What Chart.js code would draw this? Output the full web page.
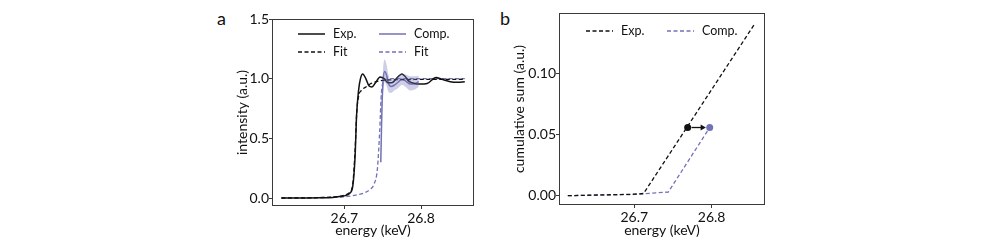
<!DOCTYPE html>
<html lang="en">
<head>
    <meta charset="UTF-8">
    <title>XANES edge shift</title>
    <script src="https://cdn.jsdelivr.net/npm/chart.js"></script>
    <style>
        body { margin: 0; background: #fff; width: 981px; height: 246px; position: relative; overflow: hidden; font-family: Lato, sans-serif; }
        canvas { position: absolute; top: 0; }
        .panel-tag { position: absolute; font-size: 18px; line-height: 18px; color: #111; }
    </style>
</head>
<body>
    <div class="panel-tag" style="left:217px; top:9px;">a</div>
    <div class="panel-tag" style="left:500px; top:9px;">b</div>
    <canvas id="chartA" width="290" height="246" style="left:200px;"></canvas>
    <canvas id="chartB" width="300" height="246" style="left:490px;"></canvas>

    <script>
        // panel a: normalised intensity
        const expEnergy = [26.618, 26.642, 26.668, 26.685, 26.694, 26.701, 26.707, 26.711, 26.714, 26.716, 26.7185, 26.721, 26.724, 26.728, 26.732, 26.736, 26.741, 26.7465, 26.752, 26.757, 26.762, 26.769, 26.775, 26.779, 26.784, 26.791, 26.799, 26.808, 26.8195, 26.827, 26.838, 26.848, 26.857];
        const expIntensity = [0, 0, 0.002, 0.005, 0.012, 0.02, 0.04, 0.10, 0.35, 0.70, 0.90, 1.00, 1.04, 1.00, 0.94, 0.93, 0.97, 1.015, 1.00, 0.965, 0.965, 1.01, 1.04, 1.02, 0.98, 0.96, 0.955, 0.96, 1.01, 0.995, 0.975, 0.97, 0.975];

        const expFitEnergy = [26.618, 26.668, 26.685, 26.694, 26.701, 26.707, 26.711, 26.714, 26.716, 26.7185, 26.722, 26.728, 26.735, 26.745, 26.76, 26.857];
        const expFitIntensity = [0, 0.003, 0.008, 0.015, 0.025, 0.05, 0.12, 0.40, 0.70, 0.85, 0.90, 0.93, 0.96, 0.98, 0.99, 0.995];

        const compEnergy = [26.7475, 26.749, 26.7505, 26.7525, 26.755, 26.7575, 26.761, 26.765, 26.770, 26.775, 26.780, 26.786, 26.792, 26.797];
        const compIntensity = [0.30, 0.75, 0.98, 1.06, 1.03, 0.96, 0.935, 0.945, 0.97, 0.995, 0.98, 0.955, 0.96, 0.975];
        const compUpper = [0.35, 0.85, 1.08, 1.16, 1.12, 1.03, 0.99, 0.99, 1.02, 1.04, 1.035, 1.02, 1.02, 1.025];
        const compLower = [0.25, 0.65, 0.88, 0.97, 0.94, 0.89, 0.88, 0.90, 0.92, 0.95, 0.93, 0.90, 0.91, 0.93];

        const compFitEnergy = [26.618, 26.668, 26.685, 26.700, 26.715, 26.725, 26.733, 26.739, 26.743, 26.746, 26.748, 26.750, 26.753, 26.761, 26.857];
        const compFitIntensity = [0, 0.004, 0.007, 0.01, 0.025, 0.04, 0.07, 0.12, 0.24, 0.55, 0.85, 0.96, 0.99, 1.0, 1.0];

        const xTicksA = [26.7, 26.8];
        const yTicksA = [0.0, 0.5, 1.0, 1.5];

        // panel b: cumulative sum
        const cumExpEnergy = [26.614, 26.700, 26.712, 26.855];
        const cumExpSum = [0, 0.0012, 0.0018, 0.1395];
        const cumCompEnergy = [26.614, 26.700, 26.744, 26.7975];
        const cumCompSum = [0, 0.001, 0.003, 0.0556];
        const markerEnergy = [26.769, 26.7975];
        const markerSum = [0.0556, 0.0556];
        const arrowEnergy = [26.774, 26.788];
        const arrowSum = [0.0556, 0.0556];

        const xTicksB = [26.7, 26.8];
        const yTicksB = [0.00, 0.05, 0.10];

        const purple = '#7272b6';
        const frameColor = '#3a3a3a';

        Chart.defaults.font.family = 'Lato';
        Chart.defaults.font.size = 14;
        Chart.defaults.color = '#111';

        function pts(xs, ys) {
            return xs.map((x, i) => ({ x: x, y: ys[i] }));
        }

        // box around the plot area
        const framePlugin = {
            id: 'frame',
            afterDraw(chart) {
                const a = chart.chartArea;
                const ctx = chart.ctx;
                ctx.save();
                ctx.strokeStyle = frameColor;
                ctx.lineWidth = 1;
                ctx.strokeRect(Math.round(a.left) + 0.5, Math.round(a.top) + 0.5, Math.round(a.right - a.left) - 1, Math.round(a.bottom - a.top) - 1);
                ctx.restore();
            }
        };

        // legend drawn inside the axes
        const insideLegend = {
            id: 'insideLegend',
            afterDraw(chart, args, opts) {
                const ctx = chart.ctx;
                ctx.save();
                opts.items.forEach(item => {
                    const ds = chart.data.datasets[item.ds];
                    ctx.strokeStyle = ds.borderColor;
                    ctx.lineWidth = ds.borderWidth;
                    ctx.setLineDash(ds.borderDash || []);
                    ctx.beginPath();
                    ctx.moveTo(item.x, item.y);
                    ctx.lineTo(item.x + 27, item.y);
                    ctx.stroke();
                    ctx.setLineDash([]);
                    ctx.fillStyle = '#111';
                    ctx.font = '12.5px Lato';
                    ctx.textBaseline = 'middle';
                    ctx.fillText(item.label, item.x + 35, item.y);
                });
                ctx.restore();
            }
        };

        function axisX(min, max, ticks, height) {
            return {
                type: 'linear', min: min, max: max,
                afterBuildTicks: s => { s.ticks = ticks.map(v => ({ value: v })); },
                afterFit: s => { s.height = height; },
                grid: { drawOnChartArea: false, drawTicks: true, tickLength: 3, color: frameColor },
                border: { display: false },
                ticks: { padding: 1, color: '#111', callback: v => v.toFixed(1) },
                title: { display: true, text: 'energy (keV)', padding: 0, color: '#111' }
            };
        }

        function axisY(min, max, ticks, width, digits, label) {
            return {
                type: 'linear', min: min, max: max,
                afterBuildTicks: s => { s.ticks = ticks.map(v => ({ value: v })); },
                afterFit: s => { s.width = width; },
                grid: { drawOnChartArea: false, drawTicks: true, tickLength: 3, color: frameColor },
                border: { display: false },
                ticks: { padding: 0, color: '#111', callback: v => v.toFixed(digits) },
                title: { display: true, text: label, padding: 0, color: '#111' }
            };
        }

        new Chart(document.getElementById('chartA'), {
            type: 'line',
            data: {
                datasets: [
                    { label: 'band+', data: pts(compEnergy, compUpper), borderWidth: 0, borderColor: 'rgba(0,0,0,0)', pointRadius: 0, fill: false, cubicInterpolationMode: 'monotone' },
                    { label: 'band-', data: pts(compEnergy, compLower), borderWidth: 0, borderColor: 'rgba(0,0,0,0)', pointRadius: 0, fill: '-1', backgroundColor: 'rgba(114,114,182,0.35)', cubicInterpolationMode: 'monotone' },
                    { label: 'Exp.', data: pts(expEnergy, expIntensity), borderColor: '#111', borderWidth: 1.5, pointRadius: 0, cubicInterpolationMode: 'monotone' },
                    { label: 'Fit', data: pts(expFitEnergy, expFitIntensity), borderColor: '#111', borderWidth: 1.3, borderDash: [4, 2.5], pointRadius: 0, cubicInterpolationMode: 'monotone' },
                    { label: 'Comp.', data: pts(compEnergy, compIntensity), borderColor: purple, borderWidth: 1.5, pointRadius: 0, cubicInterpolationMode: 'monotone' },
                    { label: 'Fit', data: pts(compFitEnergy, compFitIntensity), borderColor: purple, borderWidth: 1.3, borderDash: [4, 2.5], pointRadius: 0, cubicInterpolationMode: 'monotone' }
                ]
            },
            options: {
                responsive: false,
                animation: false,
                devicePixelRatio: 1,
                layout: { padding: { left: 34, right: 16, top: 19, bottom: 7.6 } },
                scales: {
                    x: axisX(26.6057, 26.869, xTicksA, 32.4),
                    y: axisY(-0.067, 1.5, yTicksA, 38, 1, 'intensity (a.u.)')
                },
                plugins: {
                    legend: { display: false },
                    tooltip: { enabled: false },
                    insideLegend: {
                        items: [
                            { ds: 2, label: 'Exp.', x: 98, y: 34 },
                            { ds: 3, label: 'Fit', x: 98, y: 52 },
                            { ds: 4, label: 'Comp.', x: 179, y: 34 },
                            { ds: 5, label: 'Fit', x: 179, y: 52 }
                        ]
                    }
                }
            },
            plugins: [framePlugin, insideLegend]
        });

        new Chart(document.getElementById('chartB'), {
            type: 'line',
            data: {
                datasets: [
                    { label: 'Exp.', data: pts(cumExpEnergy, cumExpSum), borderColor: '#111', borderWidth: 1.3, borderDash: [4, 2.5], pointRadius: 0, tension: 0 },
                    { label: 'Comp.', data: pts(cumCompEnergy, cumCompSum), borderColor: purple, borderWidth: 1.3, borderDash: [4, 2.5], pointRadius: 0, tension: 0 },
                    { label: 'shift', data: pts(arrowEnergy, arrowSum), borderColor: '#111', borderWidth: 1.3, pointRadius: [0, 3.5], pointStyle: 'triangle', rotation: 90, pointBackgroundColor: '#111', pointBorderColor: '#111', pointBorderWidth: 0 },
                    { label: 'markers', data: pts(markerEnergy, markerSum), showLine: false, pointRadius: 3.5, pointBorderWidth: 0, pointBackgroundColor: ['#111', purple], pointBorderColor: ['#111', purple] }
                ]
            },
            options: {
                responsive: false,
                animation: false,
                devicePixelRatio: 1,
                layout: { padding: { left: 21, right: 25, top: 13, bottom: 7.6 } },
                scales: {
                    x: axisX(26.6026, 26.869, xTicksB, 33.4),
                    y: axisY(-0.0076, 0.149, yTicksB, 48, 2, 'cumulative sum (a.u.)')
                },
                plugins: {
                    legend: { display: false },
                    tooltip: { enabled: false },
                    insideLegend: {
                        items: [
                            { ds: 0, label: 'Exp.', x: 96, y: 31 },
                            { ds: 1, label: 'Comp.', x: 177, y: 31 }
                        ]
                    }
                }
            },
            plugins: [framePlugin, insideLegend]
        });
    </script>
</body>
</html>
